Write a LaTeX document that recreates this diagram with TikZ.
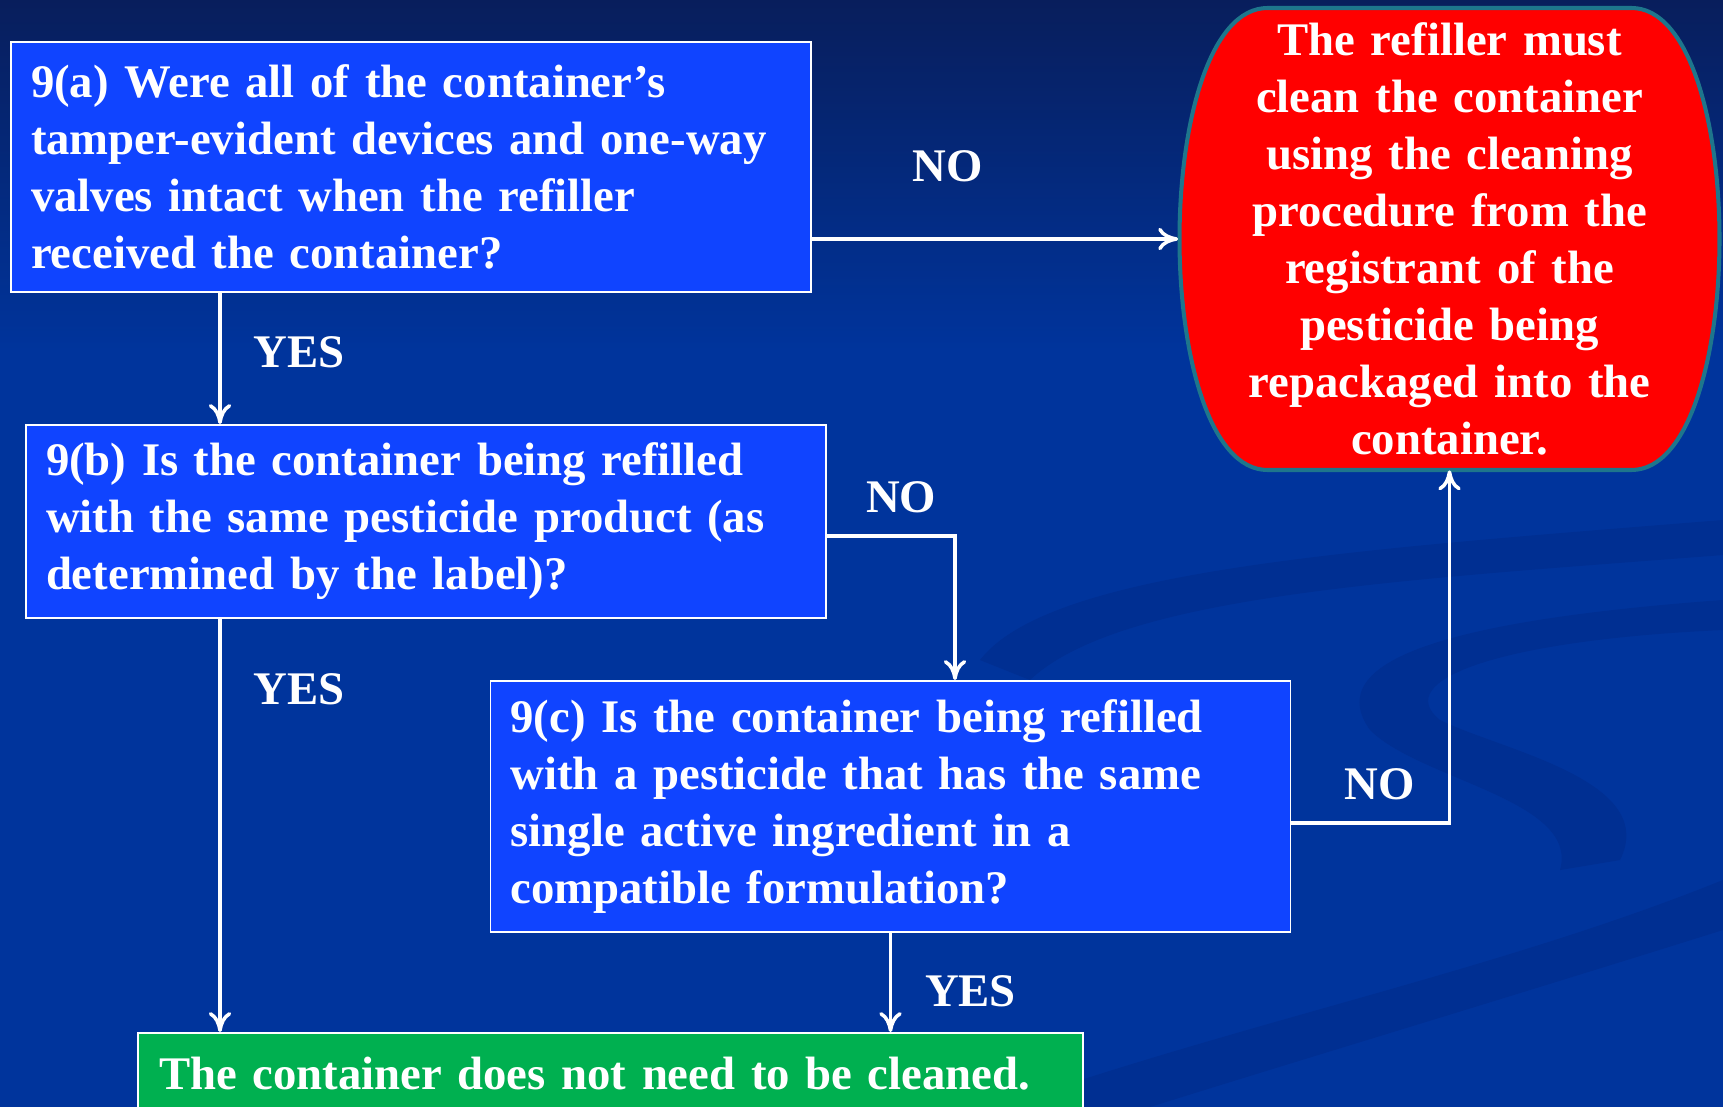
\documentclass[tikz,border=0pt]{standalone}
\usepackage{fontspec}
\setmainfont{Liberation Serif}
\usetikzlibrary{shapes,arrows.meta}
\definecolor{slidetop}{RGB}{8,30,92}
\definecolor{slideblue}{RGB}{0,52,156}
\definecolor{swoosh}{RGB}{0,47,146}
\definecolor{boxblue}{RGB}{16,68,255}
\definecolor{okgreen}{RGB}{0,176,80}
\definecolor{stopred}{RGB}{255,0,0}
\definecolor{stopedge}{RGB}{30,118,140}
\pgfdeclarelayer{back}
\pgfsetlayers{back,main}

\begin{document}
\begin{tikzpicture}[node distance = 7cm, font=\bfseries\fontsize{26.6}{32.4}\selectfont, text=white]
        \tikzstyle{question} = [rectangle, draw=white, line width=1.1pt, fill=boxblue, text width=15.2cm, align=left, inner xsep=0.4cm, inner ysep=0.1cm]
        \tikzstyle{cloud} = [rectangle, text width=10.4cm, align=center, minimum width=10.84cm, minimum height=9.24cm, inner sep=0pt]
        \tikzstyle{finish} = [rectangle, draw=white, line width=1.1pt, fill=okgreen, text width=18.06cm, align=left, inner xsep=0.42cm, minimum height=1.64cm]
        \tikzstyle{line} = [draw=white, line width=2pt, -{To[length=0.4cm, width=0.45cm]}]

    \useasboundingbox (0,0) rectangle (34.46,-22.14);
    \begin{pgfonlayer}{back}
        \fill [slideblue] (0,0) rectangle (34.46,-22.14);
        \shade [top color=slidetop, bottom color=slideblue] (0,0) rectangle (34.46,-7);
        % faint swooshes
        \fill [swoosh] (19.6,-13.2) .. controls (21,-11.4) and (27,-11.0) .. (34.46,-10.4) -- (34.46,-11.1) .. controls (28,-11.6) and (22.4,-11.9) .. (20.6,-13.6) -- cycle;
        \fill [swoosh] (34.46,-12.0) .. controls (29,-12.4) and (26.4,-13.2) .. (27.4,-14.6) .. controls (28.4,-15.6) and (31.6,-16.0) .. (31.2,-17.4) -- (32.4,-17.2) .. controls (33.2,-15.6) and (30,-15.0) .. (28.8,-14.4) .. controls (27.8,-13.6) and (30,-12.8) .. (34.46,-12.6) -- cycle;
        \fill [swoosh] (20,-22.14) .. controls (25,-20.4) and (30,-19.4) .. (34.46,-17.6) -- (34.46,-18.6) .. controls (30,-20.0) and (26,-21.2) .. (23,-22.14) -- cycle;
    \end{pgfonlayer}

    \node [question, minimum height=5cm] (question a) at (8.22,-3.34) {9(a) Were all of the container’s\\ tamper-evident devices and one-way\\ valves intact when the refiller\\ received the container?};
    \node [question, below of=question a, node distance=7.09cm, xshift=0.3cm, minimum height=3.86cm] (question b) {9(b) Is the container being refilled\\ with the same pesticide product (as\\ determined by the label)?};
    \node [question, below of=question b, node distance=5.7cm, xshift=9.29cm, minimum height=5.02cm] (question c) {9(c) Is the container being refilled\\ with a pesticide that has the same\\ single active ingredient in a\\ compatible formulation?};
    \node [cloud, right of=question a, node distance=20.77cm, yshift=-1.44cm] (clean container) {The refiller must\\ clean the container\\ using the cleaning\\ procedure from the\\ registrant of the\\ pesticide being\\ repackaged into the\\ container.};
    \node [finish, below of=question c, node distance=5.35cm, xshift=-5.6cm] (no cleaning) {The container does not need to be cleaned.};

    % red box outline
    \begin{pgfonlayer}{back}
    \begin{scope}[shift={(clean container.center)}]
        \draw [stopedge, line width=2.3pt, fill=stopred] (-3.64,4.62) -- (3.64,4.62) .. controls (4.8,4.62) and (5.40,2.3) .. (5.40,0) .. controls (5.40,-2.3) and (4.8,-4.62) .. (3.64,-4.62) -- (-3.64,-4.62) .. controls (-4.8,-4.62) and (-5.40,-2.3) .. (-5.40,0) .. controls (-5.40,2.3) and (-4.8,4.62) .. (-3.64,4.62) -- cycle;
    \end{scope}
    \end{pgfonlayer}

    \path [line] (question a.east |- clean container.west) -- node [pos=0.37, yshift=1.46cm] {NO} (clean container.west);
    \path [line] ([xshift=-3.82cm]question a.south) -- node [pos=0.45, xshift=1.58cm] {YES} ([xshift=-3.82cm]question a.south |- question b.north);
    \path [line] ([yshift=-0.29cm]question b.east) -| node [pos=0.29, yshift=0.78cm] {NO} ([xshift=1.29cm]question c.north);
    \path [line] ([yshift=-0.33cm]question c.east) -| node [pos=0.28, yshift=0.78cm] {NO} (clean container.south);
    \path [line] ([xshift=-4.12cm]question b.south) -- node [pos=0.17, xshift=1.58cm] {YES} ([xshift=-4.12cm]question b.south |- no cleaning.north);
    \path [line] (question c.south) -- node [pos=0.59, xshift=1.6cm] {YES} (question c.south |- no cleaning.north);
\end{tikzpicture}
\end{document}
